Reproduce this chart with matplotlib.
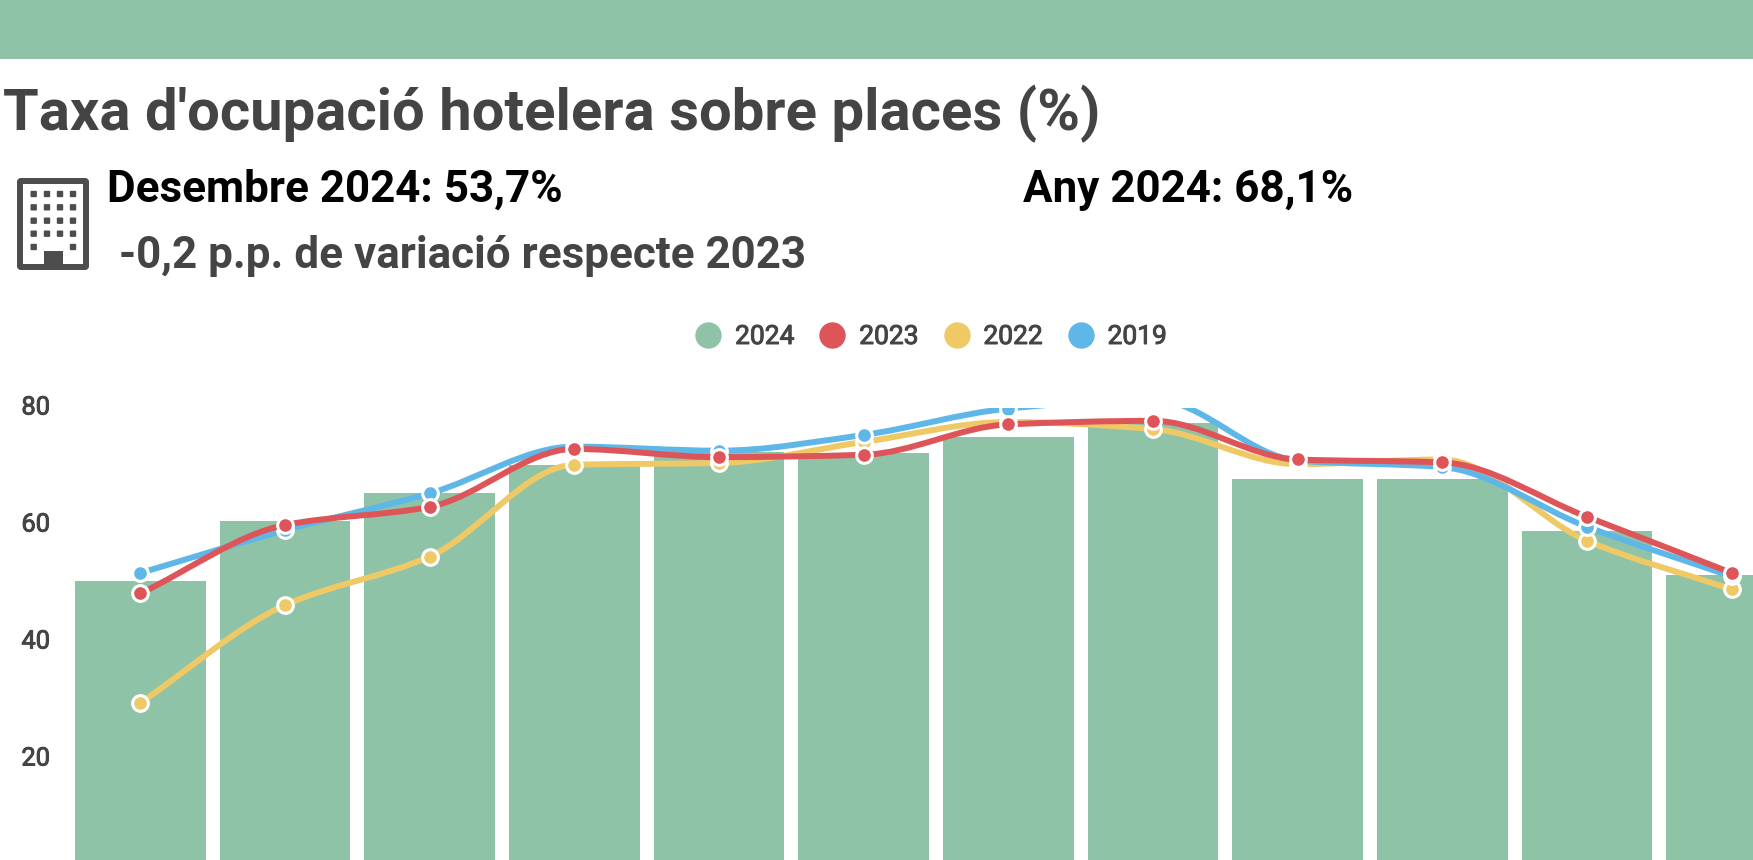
#!/usr/bin/env python3
# -*- coding: utf-8 -*-

import matplotlib
matplotlib.use("Agg")
import matplotlib.patheffects as pe
import matplotlib.pyplot as plt
import numpy as np
from matplotlib.lines import Line2D
from matplotlib.patches import FancyBboxPatch, PathPatch, Rectangle
from matplotlib.path import Path
from matplotlib.transforms import ScaledTranslation

months = ["Gen", "Feb", "Mar", "Abr", "Mai", "Jun", "Jul", "Ago", "Set", "Oct", "Nov", "Des"]
y_ticks = [20, 40, 60, 80]

values_2024 = [50.4, 60.7, 65.5, 70.3, 72.5, 72.3, 75.0, 77.4, 67.9, 67.9, 59.0, 51.5]
values_2023 = [48.3, 60.0, 63.1, 73.0, 71.6, 72.0, 77.2, 77.8, 71.2, 70.7, 61.4, 51.8]
values_2022 = [29.6, 46.3, 54.6, 70.3, 70.6, 74.2, 77.6, 76.4, 70.4, 71.2, 57.3, 49.0]
values_2019 = [51.8, 59.1, 65.4, 73.4, 72.7, 75.4, 79.9, 81.5, 71.0, 69.9, 59.7, 51.2]

GREEN = "#8fc3a8"
RED = "#dd5558"
YELLOW = "#eec966"
BLUE = "#5fb7e8"
GREY = "#444444"

W, H = 1753, 860
plt.rcParams["font.family"] = ["Roboto", "DejaVu Sans"]

# regular Roboto with a thin stroke, the labels are a bit heavier than regular
MEDIUM = [pe.withStroke(linewidth=0.7, foreground=GREY)]


def smooth_path(xs, ys):
    # monotone cubic through the points of a series, as beziers
    ys = np.asarray(ys, dtype=float)
    d = np.diff(ys)
    m = np.zeros(len(ys))
    m[0], m[-1] = d[0], d[-1]
    for i in range(1, len(ys) - 1):
        if d[i - 1] * d[i] > 0:
            m[i] = 2 * d[i - 1] * d[i] / (d[i - 1] + d[i])
    verts = [(xs[0], ys[0])]
    codes = [Path.MOVETO]
    for i in range(len(ys) - 1):
        verts += [(xs[i] + 1 / 3, ys[i] + m[i] / 3),
                  (xs[i + 1] - 1 / 3, ys[i + 1] - m[i + 1] / 3),
                  (xs[i + 1], ys[i + 1])]
        codes += [Path.CURVE4] * 3
    return Path(verts, codes)


def draw_icon(ax):
    color = "#4d4d4d"
    ax.add_patch(FancyBboxPatch((20, 181), 66, 86, boxstyle="round,pad=0,rounding_size=1",
                                fc="white", ec=color, lw=4.3))
    for row, wy in enumerate([194, 207.3, 220.7, 233.7, 247]):
        for col, wx in enumerate([33.7, 47, 60, 73]):
            if row == 4 and col in (1, 2):
                continue
            ax.add_patch(FancyBboxPatch((wx - 2.2, wy - 2.2), 4.4, 4.4, boxstyle="round,pad=1",
                                        fc=color, ec="none"))
    ax.add_patch(Rectangle((44, 250.7), 19.3, 17, fc=color, ec="none"))


fig = plt.figure(figsize=(W / 100, H / 100), dpi=100, facecolor="white")

# page layer in pixel coordinates
page = fig.add_axes([0, 0, 1, 1])
page.set_xlim(0, W)
page.set_ylim(H, 0)
page.axis("off")
page.add_patch(Rectangle((0, 0), W, 58.5, fc=GREEN, ec="none"))
draw_icon(page)
page.text(3, 114, "Taxa d'ocupació hotelera sobre places (%)", fontsize=41.8, fontweight="bold",
          color=GREY, va="center", ha="left")
page.text(107, 190, "Desembre 2024: 53,7%", fontsize=31.7, fontweight="bold",
          color="black", va="center", ha="left")
page.text(1023, 190, "Any 2024: 68,1%", fontsize=31.7, fontweight="bold",
          color="black", va="center", ha="left")
page.text(119, 256, "-0,2 p.p. de variació respecte 2023", fontsize=31.7, fontweight="bold",
          color=GREY, va="center", ha="left")

# the chart runs past the right and bottom edges of the picture
ax = fig.add_axes([68 / W, (H - 876) / H, 1736 / W, 468 / H])
ax.patch.set_alpha(0)
x = np.arange(len(months))
ax.bar(x, values_2024, width=0.905, color=GREEN, zorder=1)

series = [(values_2022, YELLOW, 2), (values_2019, BLUE, 3), (values_2023, RED, 4)]
for values, color, z in series:
    ax.add_patch(PathPatch(smooth_path(x, values), fc="none", ec=color, lw=4.3, zorder=z))
    ax.plot(x, values, ls="none", marker="o", ms=11.3, mfc=color, mec="white", mew=2.2, zorder=z + 0.5)

ax.set_xlim(-0.5, 11.5)
ax.set_ylim(0, 80)
ax.set_xticks([])
ax.set_yticks(y_ticks)
ax.tick_params(axis="y", length=0, labelsize=18.3, labelcolor=GREY, pad=13)
lift = ScaledTranslation(0, 3 / 100, fig.dpi_scale_trans)
for label in ax.get_yticklabels():
    label.set_path_effects(MEDIUM)
    label.set_transform(label.get_transform() + lift)
for spine in ax.spines.values():
    spine.set_visible(False)

handles = [Line2D([], [], ls="none", marker="o", ms=19, mfc=c, mec="none")
           for c in (GREEN, RED, YELLOW, BLUE)]
leg = page.legend(handles, ["2024", "2023", "2022", "2019"], ncol=4, frameon=False,
                  loc="center", bbox_to_anchor=(931 / W, 1 - 337 / H), bbox_transform=fig.transFigure,
                  fontsize=19, labelcolor=GREY, handlelength=1, handletextpad=0.515, columnspacing=0.935)
for text in leg.get_texts():
    text.set_path_effects(MEDIUM)

fig.savefig("out.png", dpi=100)
